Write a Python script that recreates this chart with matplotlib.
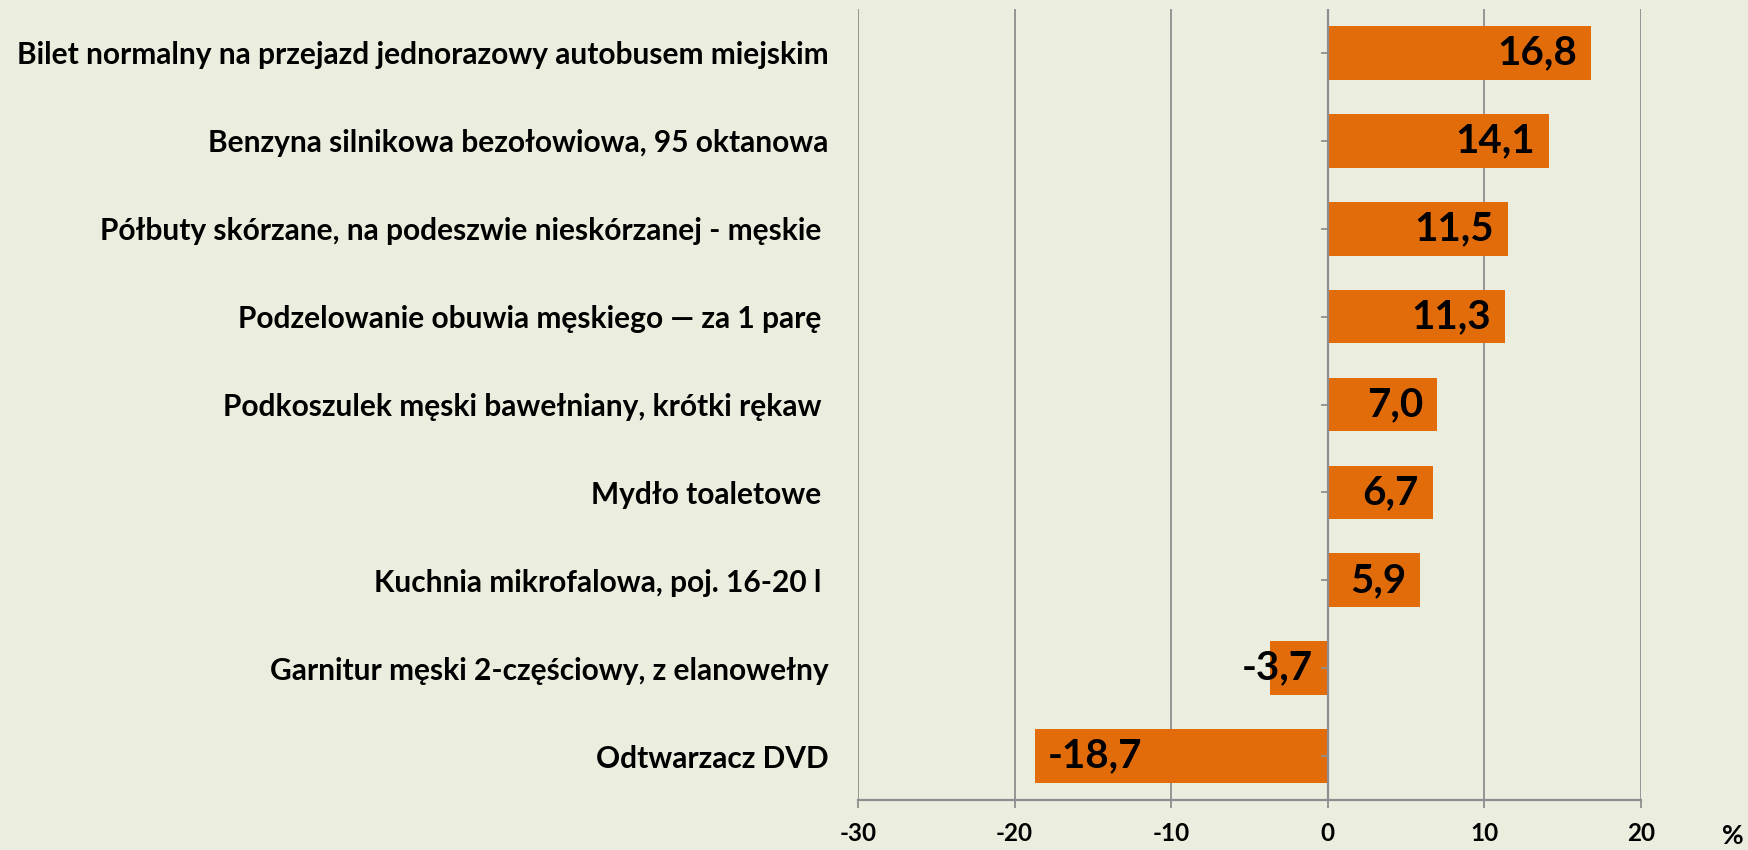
import matplotlib
matplotlib.use("Agg")
import matplotlib.pyplot as plt
import numpy as np

BG = "#ebeedf"
BAR = "#e36c0a"
GRID = "#8e8e8e"
FONT = ["Lato", "DejaVu Sans"]

# categories, top to bottom
labels = [
    "Bilet normalny na przejazd jednorazowy autobusem miejskim",
    "Benzyna silnikowa bezołowiowa, 95 oktanowa",
    "Półbuty skórzane, na podeszwie nieskórzanej - męskie ",
    "Podzelowanie obuwia męskiego — za 1 parę ",
    "Podkoszulek męski bawełniany, krótki rękaw ",
    "Mydło toaletowe ",
    "Kuchnia mikrofalowa, poj. 16-20 l ",
    "Garnitur męski 2-częściowy, z elanowełny",
    "Odtwarzacz DVD",
]
values = [16.8, 14.1, 11.5, 11.3, 7.0, 6.7, 5.9, -3.7, -18.7]
xticks = [-30, -20, -10, 0, 10, 20]

fig = plt.figure(figsize=(17.48, 8.5), dpi=100, facecolor=BG)
ax = fig.add_axes([0.4908, 0.0588, 0.4480, 0.9306], facecolor=BG)

y = np.arange(len(values))
ax.barh(y, values, height=0.61, color=BAR, zorder=3)
ax.set_ylim(len(values) - 0.5, -0.5)
ax.set_xlim(-30, 20)

for xv in xticks:
    ax.axvline(xv, color=GRID, lw=1.3, zorder=1)
ax.axvline(0, color=GRID, lw=1.6, zorder=4)
# small category ticks on the zero axis
ax.plot(np.zeros(len(values)), y, ls="none", marker=0, markersize=5,
        color=GRID, mew=1.3, zorder=4)

for s in ["top", "right", "left"]:
    ax.spines[s].set_visible(False)
ax.spines["bottom"].set_color(GRID)
ax.spines["bottom"].set_linewidth(1.6)

ax.set_xticks(xticks)
ax.set_xticklabels([str(t) for t in xticks], fontsize=17.5, fontweight="bold",
                   family=FONT)
ax.tick_params(axis="x", direction="out", length=6, width=1.3, color=GRID, pad=10)

ax.set_yticks(y)
ax.set_yticklabels(labels, fontsize=21.5, fontweight="bold", family=FONT)
ax.tick_params(axis="y", length=0, pad=21)

for yi, v in zip(y, values):
    txt = f"{v:.1f}".replace(".", ",")
    if v > 0:
        ax.annotate(txt, (v, yi), xytext=(-10, 0), textcoords="offset points",
                    ha="right", va="center", fontsize=29, fontweight="bold",
                    family=FONT, zorder=5)
    elif v > -5:
        ax.annotate(txt, (0, yi), xytext=(-11, 0), textcoords="offset points",
                    ha="right", va="center", fontsize=29, fontweight="bold",
                    family=FONT, zorder=5)
    else:
        ax.annotate(txt, (v, yi), xytext=(9, 0), textcoords="offset points",
                    ha="left", va="center", fontsize=29, fontweight="bold",
                    family=FONT, zorder=5)

fig.text(1733 / 1748, 1 - 836 / 850, "%", ha="center", va="center",
         fontsize=19, fontweight="bold", family=FONT)

fig.savefig("out.png", dpi=100, facecolor=BG)
